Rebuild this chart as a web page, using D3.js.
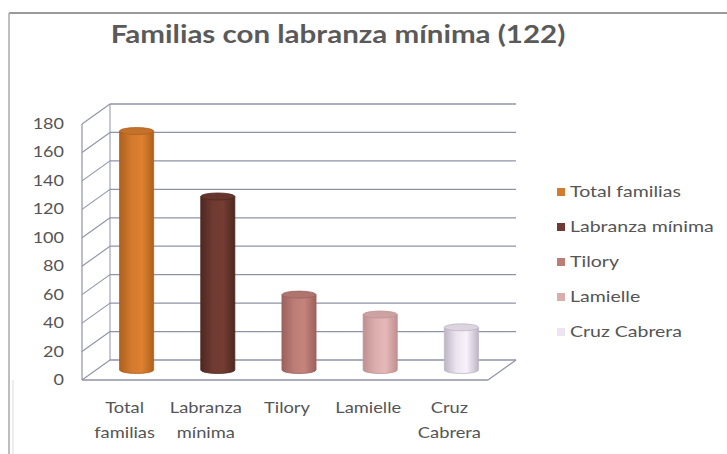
<!DOCTYPE html>
<html>
<head>
<meta charset="utf-8">
<script src="https://cdn.jsdelivr.net/npm/d3@7"></script>
<style>
  body { margin: 0; background: #fff; }
  svg { display: block; font-family: Lato, "Open Sans", sans-serif; }
</style>
</head>
<body>
<div id="chart"></div>
<script>
// data
var titre = "Familias con labranza mínima (122)";
var categories = [["Total", "familias"], ["Labranza", "mínima"], ["Tilory"], ["Lamielle"], ["Cruz", "Cabrera"]];
var noms = ["Total familias", "Labranza mínima", "Tilory", "Lamielle", "Cruz Cabrera"];
var valeurs = [168, 122, 53, 39, 30];
var ticks = [0, 20, 40, 60, 80, 100, 120, 140, 160, 180];

var couleurs = ["#d27a2e", "#6e3a31", "#bb7d76", "#dbaeae", "#ece5ef"];
var bords = ["#b0601c", "#4f2820", "#9c625c", "#bf9090", "#bdb5c4"];

// the reference text is wider than Lato, stretch it a bit
function etirer(sel, k) {
    sel.each(function () {
        let w = this.getComputedTextLength();
        d3.select(this).attr("textLength", w * k).attr("lengthAdjust", "spacingAndGlyphs");
    });
}

function dessiner() {
    let width = 727, height = 454;
    let svg = d3.select("#chart").append("svg")
        .attr("width", width).attr("height", height);

    // outer frame
    svg.append("line").attr("x1", 9).attr("x2", width).attr("y1", 13).attr("y2", 13)
        .attr("stroke", "#9a9a9a").attr("stroke-width", 2);
    svg.append("line").attr("x1", 9).attr("x2", 9).attr("y1", 13).attr("y2", height)
        .attr("stroke", "#a8a8a8").attr("stroke-width", 1.5);
    svg.append("line").attr("x1", 13).attr("x2", 13).attr("y1", 380).attr("y2", height)
        .attr("stroke", "#dcdcdc").attr("stroke-width", 1);

    // title
    svg.append("text")
        .attr("x", 338).attr("y", 43)
        .attr("text-anchor", "middle")
        .style("font-weight", "bold").style("font-size", "24px")
        .style("fill", "#5a5a5a")
        .text(titre)
        .call(etirer, 1.23);

    // front plane scales + depth offset
    let x0 = 82, x1 = 488;
    let dx = 28, dy = -20;
    let xScale = d3.scaleBand().domain(d3.range(categories.length)).range([x0, x1]);
    let yScale = d3.scaleLinear().domain([0, 180]).range([380, 124]);

    let grid = "#8f93a8";
    let g = svg.append("g");

    // back wall gridlines
    g.selectAll(".back").data(ticks).enter().append("line")
        .attr("x1", x0 + dx).attr("x2", x1 + dx)
        .attr("y1", d => yScale(d) + dy).attr("y2", d => yScale(d) + dy)
        .attr("stroke", grid).attr("stroke-width", 1.3);
    // side wall diagonals
    g.selectAll(".side").data(ticks).enter().append("line")
        .attr("x1", x0).attr("x2", x0 + dx)
        .attr("y1", d => yScale(d)).attr("y2", d => yScale(d) + dy)
        .attr("stroke", grid).attr("stroke-width", 1.1);
    // wall edges
    g.append("line").attr("x1", x0).attr("x2", x0).attr("y1", yScale(180)).attr("y2", yScale(0))
        .attr("stroke", grid).attr("stroke-width", 1.2);
    g.append("line").attr("x1", x0 + dx).attr("x2", x0 + dx).attr("y1", yScale(180) + dy).attr("y2", yScale(0) + dy)
        .attr("stroke", grid).attr("stroke-width", 1);
    // floor front edge and right diagonal
    g.append("line").attr("x1", x0).attr("x2", x1).attr("y1", yScale(0)).attr("y2", yScale(0))
        .attr("stroke", grid).attr("stroke-width", 1.4);
    g.append("line").attr("x1", x1).attr("x2", x1 + dx).attr("y1", yScale(0)).attr("y2", yScale(0) + dy)
        .attr("stroke", grid).attr("stroke-width", 1.2);

    // y tick labels
    svg.selectAll(".tick").data(ticks).enter().append("text")
        .attr("x", 64).attr("y", d => yScale(d) + 5)
        .attr("text-anchor", "end")
        .style("font-size", "15px").style("fill", "#555")
        .text(d => d)
        .call(etirer, 1.2);

    // gradients for cylinders
    let defs = svg.append("defs");
    couleurs.forEach(function (c, i) {
        let grad = defs.append("linearGradient").attr("id", "cyl" + i)
            .attr("x1", "0").attr("x2", "1").attr("y1", "0").attr("y2", "0");
        grad.append("stop").attr("offset", "0%").attr("stop-color", bords[i]);
        grad.append("stop").attr("offset", "35%").attr("stop-color", c);
        grad.append("stop").attr("offset", "65%").attr("stop-color", d3.color(c).brighter(0.15));
        grad.append("stop").attr("offset", "100%").attr("stop-color", bords[i]);
    });

    // cylinders, centred at mid depth
    let bw = xScale.bandwidth() * 0.42;
    let ry = 3.5;
    let cyl = svg.selectAll(".cyl").data(valeurs).enter().append("g");
    cyl.append("path")
        .attr("d", function (d, i) {
            let cx = xScale(i) + xScale.bandwidth() / 2 + dx / 2;
            let yb = yScale(0) + dy / 2, yt = yScale(d) + dy / 2;
            let r = bw / 2;
            return "M" + (cx - r) + "," + yt + "L" + (cx - r) + "," + yb +
                "A" + r + "," + ry + " 0 0 0 " + (cx + r) + "," + yb +
                "L" + (cx + r) + "," + yt + "Z";
        })
        .attr("fill", (d, i) => "url(#cyl" + i + ")")
        .attr("stroke", (d, i) => bords[i]).attr("stroke-width", 0.8);
    cyl.append("ellipse")
        .attr("cx", (d, i) => xScale(i) + xScale.bandwidth() / 2 + dx / 2)
        .attr("cy", d => yScale(d) + dy / 2)
        .attr("rx", bw / 2).attr("ry", ry)
        .attr("fill", (d, i) => d3.color(couleurs[i]).darker(0.2))
        .attr("stroke", (d, i) => bords[i]).attr("stroke-width", 0.8);

    // category labels, one text per line
    let lignesCat = [];
    categories.forEach((c, i) => c.forEach((t, j) => lignesCat.push({ t: t, i: i, j: j })));
    svg.selectAll(".cat").data(lignesCat).enter().append("text")
        .attr("text-anchor", "middle")
        .attr("x", d => xScale(d.i) + xScale.bandwidth() / 2 + 2)
        .attr("y", d => 413 + d.j * 25)
        .style("font-size", "15px").style("fill", "#555")
        .text(d => d.t)
        .call(etirer, 1.22);

    // legend
    let leg = svg.selectAll(".leg").data(noms).enter().append("g")
        .attr("transform", (d, i) => "translate(557," + (192 + i * 35) + ")");
    leg.append("rect").attr("x", 0).attr("y", -4).attr("width", 8).attr("height", 8)
        .attr("fill", (d, i) => couleurs[i]);
    leg.append("text").attr("x", 13).attr("y", 5)
        .style("font-size", "15px").style("fill", "#555")
        .text(d => d)
        .call(etirer, 1.3);
}

dessiner();
</script>
</body>
</html>
